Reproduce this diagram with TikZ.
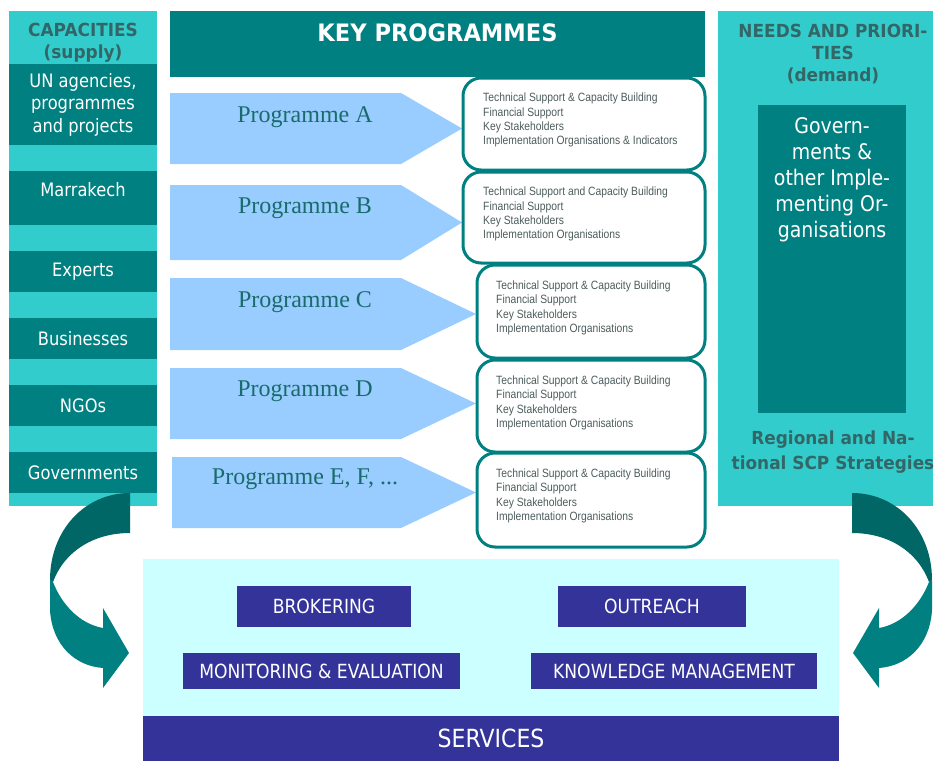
\documentclass[tikz,border=0pt]{standalone}
\usepackage{fontspec}
\usepackage{tikz}
\newfontfamily\tahoma[FakeStretch=0.88]{DejaVu Sans}
\newfontfamily\tahomabold[FakeStretch=0.94]{DejaVu Sans}
\newfontfamily\arialn[FakeStretch=0.86]{Liberation Sans}
\newfontfamily\timesfont{Liberation Serif}
\definecolor{colbg}{HTML}{33CCCC}
\definecolor{coldark}{HTML}{008080}
\definecolor{arrdark}{HTML}{006666}
\definecolor{headcol}{HTML}{336666}
\definecolor{progblue}{HTML}{99CCFF}
\definecolor{progcol}{HTML}{1A6B6B}
\definecolor{detcol}{HTML}{4D5C5C}
\definecolor{svcbg}{HTML}{CCFFFF}
\definecolor{svcblue}{HTML}{333399}

\begin{document}
\begin{tikzpicture}[x=1pt,y=-1pt,
capbox/.style={fill=coldark,text=white,minimum width=148,inner sep=0,outer sep=0,align=center,font=\tahoma\fontsize{18.5}{22.5}\selectfont},
colhead/.style={text=headcol,align=center,inner sep=0,font=\tahomabold\bfseries\fontsize{18}{22}\selectfont},
proglbl/.style={text=progcol,anchor=base,inner sep=0,font=\timesfont\fontsize{24}{28}\selectfont},
detail/.style={draw=coldark,line width=3,rounded corners=18,fill=white,inner sep=0,outer sep=0},
dettxt/.style={text=detcol,anchor=north west,align=left,inner sep=0,font=\arialn\fontsize{12}{14.3}\selectfont},
srv/.style={fill=svcblue,text=white,inner sep=0,outer sep=0,font=\tahoma\fontsize{19.5}{22}\selectfont},
curvarrow/.pic={
  \fill[arrdark] (130,493) -- (130,533) .. controls (95,533) and (65,550) .. (53,582) -- (50,580)
     .. controls (50,530) and (85,493) .. (130,493) -- cycle;
  \fill[coldark] (53,582) .. controls (62,605) and (80,624) .. (103,628) -- (103,608) -- (129,653)
     -- (103,688) -- (103,668) .. controls (75,666) and (52,645) .. (50,610) -- (50,580) -- cycle;
}]
\useasboundingbox (0,0) rectangle (938,761);

% supply side
\fill[colbg] (9,11) rectangle (157,506);
\node[colhead] (cap) at (83,43) {CAPACITIES\\(supply)};
\node[capbox,minimum height=81] (un) at (83,104.5) {UN agencies,\\programmes\\and projects};
\node[capbox,minimum height=54,text depth=18pt] (marr) at (83,198) {Marrakech};
\foreach \n/\yc/\txt in {exp/271.5/Experts,bus/338.5/Businesses,ngo/405.5/NGOs,govs/472.5/Governments}
   \node[capbox,minimum height=41] (\n) at (83,\yc) {\txt};

% demand side
\fill[colbg] (718,11) rectangle (933,506);
\node[colhead] (needs) at (833,53.6) {NEEDS AND PRIORI-\\TIES\\(demand)};
\node[fill=coldark,minimum width=148,minimum height=308,inner sep=0,outer sep=0] (govimpl) at (832,259) {};
\node[anchor=north,text=white,align=center,inner sep=0,font=\tahoma\fontsize{21.5}{26}\selectfont]
   (govimpl-t) at ([yshift=-12pt]govimpl.north) {Govern-\\ments \&\\other Imple-\\menting Or-\\ganisations};
\node[colhead,font=\tahomabold\bfseries\fontsize{18}{24.5}\selectfont] (scp) at (833,452) {Regional and Na-\\tional SCP Strategies};

% programmes
\node[fill=coldark,text=white,minimum width=535,minimum height=66,inner sep=0,text depth=22pt,
   font=\tahomabold\bfseries\fontsize{24}{28}\selectfont] (keyprog) at (437.5,44) {KEY PROGRAMMES};
\foreach \n/\xl/\xr/\yt/\yb/\ybase/\lbl in {a/170/462/93/164/122/A,b/170/462/185/260/213/B,
   c/170/476/278/350/307/C,d/170/476/368/439/396/D,e/172/476/457/528/484/{E, F, ...}} {
   \fill[progblue] (\xl,\yt) -- (401,\yt) -- (\xr,{(\yt+\yb)/2}) coordinate (p\n) -- (401,\yb) -- (\xl,\yb) -- cycle;
   \node[proglbl] (p\n-t) at (305,\ybase) {Programme \lbl};
}
\node[detail,minimum width=242,minimum height=92] (da) at (584,124) {};
\node[dettxt] (da-t) at ([xshift=20pt,yshift=-15pt]da.north west)
   {Technical Support \& Capacity  Building\\Financial Support\\Key Stakeholders\\Implementation Organisations \& Indicators};
\node[detail,minimum width=242,minimum height=91] (db) at (584,217.5) {};
\node[dettxt] (db-t) at ([xshift=20pt,yshift=-15pt]db.north west)
   {Technical Support  and Capacity Building\\Financial Support\\Key Stakeholders\\Implementation Organisations};
\foreach \n/\yc/\h in {c/311.5/93,d/406/92,e/500/94} {
   \node[detail,minimum width=228,minimum height=\h] (d\n) at (591,\yc) {};
   \node[dettxt] (d\n-t) at ([xshift=19pt,yshift=-15.5pt]d\n.north west)
      {Technical Support \& Capacity  Building\\Financial Support\\Key Stakeholders\\Implementation Organisations};
}

% services
\fill[svcbg] (143,559) rectangle (839,716);
\node[srv,minimum width=174,minimum height=41] (brok) at (324,606.5) {BROKERING};
\node[srv,minimum width=188,minimum height=41] (outr) at (652,606.5) {OUTREACH};
\node[srv,minimum width=277,minimum height=36] (mon) at (321.5,671) {MONITORING \& EVALUATION};
\node[srv,minimum width=286,minimum height=36] (know) at (674,671) {KNOWLEDGE MANAGEMENT};
\node[srv,minimum width=696,minimum height=45,font=\tahoma\fontsize{25}{28}\selectfont] (svc) at (491,738.5) {SERVICES};

\pic at (0,0) {curvarrow};
\pic[xscale=-1] at (982,0) {curvarrow};
\end{tikzpicture}
\end{document}
